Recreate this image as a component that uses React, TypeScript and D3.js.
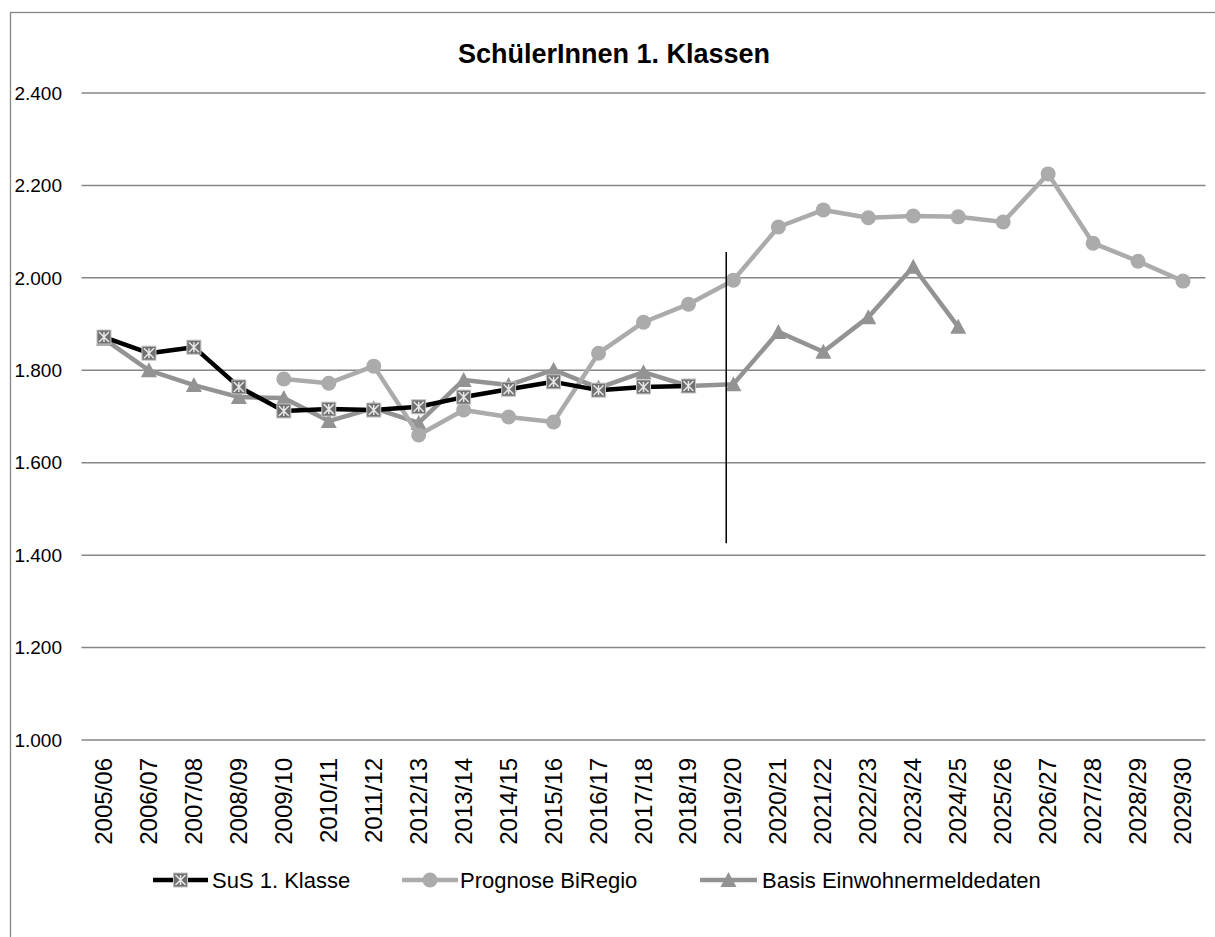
import React from "react";
import * as d3 from "d3";

const categories = [
  "2005/06", "2006/07", "2007/08", "2008/09", "2009/10", "2010/11", "2011/12",
  "2012/13", "2013/14", "2014/15", "2015/16", "2016/17", "2017/18", "2018/19",
  "2019/20", "2020/21", "2021/22", "2022/23", "2023/24", "2024/25", "2025/26",
  "2026/27", "2027/28", "2028/29", "2029/30",
];

const susValues: (number | null)[] = [
  1872, 1837, 1850, 1764, 1712, 1716, 1714, 1721, 1742, 1759, 1775, 1757, 1764, 1766,
  null, null, null, null, null, null, null, null, null, null, null,
];

const prognoseValues: (number | null)[] = [
  null, null, null, null, 1781, 1772, 1809, 1660, 1714, 1699, 1688, 1837, 1904, 1943,
  1995, 2110, 2147, 2130, 2134, 2132, 2121, 2225, 2075, 2036, 1993,
];

const basisValues: (number | null)[] = [
  1868, 1800, 1768, 1742, 1740, 1690, 1718, 1686, 1779, 1768, 1801, 1762, 1796, 1766,
  1770, 1883, 1840, 1915, 2024, 1894, null, null, null, null, null,
];

const yTicks = [1000, 1200, 1400, 1600, 1800, 2000, 2200, 2400];
const seriesNames = ["SuS 1. Klasse", "Prognose BiRegio", "Basis Einwohnermeldedaten"];
const dividerCategory = "2019/20";
const dividerRange = [1426, 2056];

const W = 1215;
const H = 937;
const FONT = "'Liberation Sans', Arial, sans-serif";

const COL_SUS = "#000000";
const COL_PROG = "#ababab";
const COL_BASIS = "#939393";

function fmt(v: number) {
  return d3.format(".3f")(v / 1000);
}

function StarSquare({ x, y }: { x: number; y: number }) {
  const s = 7;
  return (
    <g>
      <rect x={x - s} y={y - s} width={2 * s} height={2 * s} fill="#707070" stroke="#c4c4c4" strokeWidth={1} />
      <path
        d={`M${x - s + 2},${y - s + 2}L${x + s - 2},${y + s - 2}M${x - s + 2},${y + s - 2}L${x + s - 2},${y - s + 2}M${x},${y - s + 2}L${x},${y + s - 2}`}
        stroke="#e8e8e8"
        strokeWidth={1.5}
      />
    </g>
  );
}

function Circle({ x, y }: { x: number; y: number }) {
  return <circle cx={x} cy={y} r={7.5} fill={COL_PROG} />;
}

function Triangle({ x, y }: { x: number; y: number }) {
  const w = 8, h = 14;
  return <path d={`M${x},${y - h / 2 - 1}L${x + w},${y + h / 2}L${x - w},${y + h / 2}Z`} fill={COL_BASIS} />;
}

export default function App() {
  const x = d3.scalePoint<string>().domain(categories).range([81.5, 1205.5]).padding(0.5);
  const y = d3.scaleLinear().domain([1000, 2400]).range([740, 93]);

  const mk = (vals: (number | null)[]) =>
    categories.map((c, i) => ({ c, v: vals[i] }));

  const line = d3
    .line<{ c: string; v: number | null }>()
    .defined((d) => d.v !== null)
    .x((d) => x(d.c) as number)
    .y((d) => y(d.v as number));

  const sus = mk(susValues);
  const prog = mk(prognoseValues);
  const basis = mk(basisValues);

  const divX = (x(dividerCategory) as number) - x.step() * 0.16;

  const legendY = 880;

  return (
    <div style={{ position: "absolute", left: 0, top: 0 }}>
      <svg width={W} height={H} style={{ display: "block" }}>
        <rect x={0} y={0} width={W} height={H} fill="#ffffff" />
        <rect x={10.5} y={12.5} width={1220} height={940} fill="none" stroke="#868686" strokeWidth={1.3} />

        <text x={614} y={63} textAnchor="middle" fontFamily={FONT} fontWeight="bold" fontSize={27} fill="#000">
          SchülerInnen 1. Klassen
        </text>

        {yTicks.map((t) => (
          <g key={t}>
            <line x1={81.5} x2={1205.5} y1={y(t)} y2={y(t)} stroke="#868686" strokeWidth={1.5} />
            <text x={62} y={y(t)} dy="0.35em" textAnchor="end" fontFamily={FONT} fontSize={19} fill="#000">
              {fmt(t)}
            </text>
          </g>
        ))}

        {categories.map((c) => (
          <text
            key={c}
            transform={`translate(${(x(c) as number) + 8},758) rotate(-90)`}
            textAnchor="end"
            fontFamily={FONT}
            fontSize={24}
            fill="#000"
          >
            {c}
          </text>
        ))}

        <path d={line(basis) || ""} fill="none" stroke={COL_BASIS} strokeWidth={4.5} strokeLinejoin="round" />
        {basis.filter((d) => d.v !== null).map((d) => (
          <Triangle key={d.c} x={x(d.c) as number} y={y(d.v as number)} />
        ))}

        <path d={line(prog) || ""} fill="none" stroke={COL_PROG} strokeWidth={4.5} strokeLinejoin="round" />
        {prog.filter((d) => d.v !== null).map((d) => (
          <Circle key={d.c} x={x(d.c) as number} y={y(d.v as number)} />
        ))}

        <path d={line(sus) || ""} fill="none" stroke={COL_SUS} strokeWidth={4.5} strokeLinejoin="round" />
        {sus.filter((d) => d.v !== null).map((d) => (
          <StarSquare key={d.c} x={x(d.c) as number} y={y(d.v as number)} />
        ))}

        <line x1={divX} x2={divX} y1={y(dividerRange[0])} y2={y(dividerRange[1])} stroke="#000" strokeWidth={1.5} />

        {/* legend */}
        <g>
          <line x1={153} x2={208} y1={legendY} y2={legendY} stroke={COL_SUS} strokeWidth={4.5} />
          <StarSquare x={180.5} y={legendY} />
          <text x={212} y={legendY} dy="0.35em" fontFamily={FONT} fontSize={22} fill="#000">{seriesNames[0]}</text>

          <line x1={402} x2={458} y1={legendY} y2={legendY} stroke={COL_PROG} strokeWidth={4.5} />
          <Circle x={430} y={legendY} />
          <text x={460} y={legendY} dy="0.35em" fontFamily={FONT} fontSize={22} fill="#000">{seriesNames[1]}</text>

          <line x1={700} x2={757} y1={legendY} y2={legendY} stroke={COL_BASIS} strokeWidth={4.5} />
          <Triangle x={728.5} y={legendY} />
          <text x={762} y={legendY} dy="0.35em" fontFamily={FONT} fontSize={22} fill="#000">{seriesNames[2]}</text>
        </g>
      </svg>
    </div>
  );
}
